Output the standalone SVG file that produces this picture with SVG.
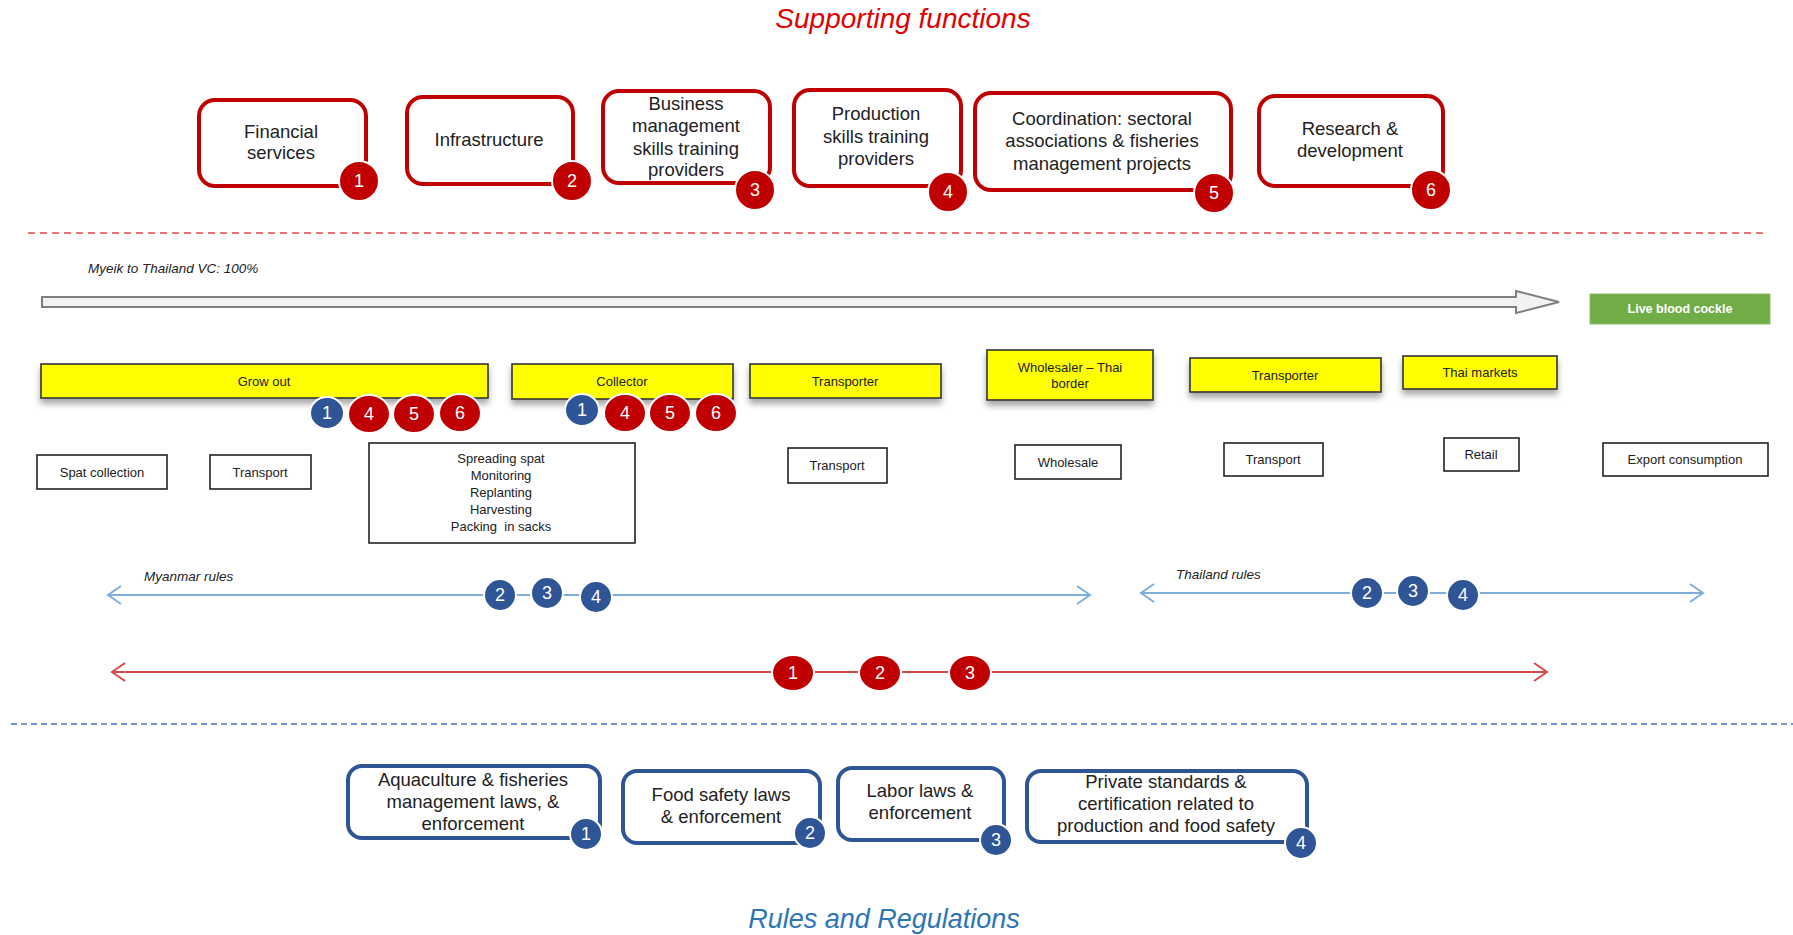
<svg xmlns="http://www.w3.org/2000/svg" width="1793" height="935" viewBox="0 0 1793 935">
<defs>
<style>
.t{font-family:"Liberation Sans",Arial,sans-serif;text-anchor:middle;fill:#222}
.sf{stroke:#C00000;stroke-width:4;fill:#fff}
.rr{stroke:#2F5597;stroke-width:4;fill:#fff}
.rb{fill:#C00000;stroke:#fff;stroke-width:2}
.bb{fill:#2F5597;stroke:#fff;stroke-width:2}
.bn{font-family:"Liberation Sans",Arial,sans-serif;text-anchor:middle;fill:#fff;font-size:18px}
.yl{fill:#FFFF00;stroke:#333;stroke-width:1.6}
.wb{fill:#fff;stroke:#222;stroke-width:1.6}
.big{font-size:18.5px}
.sm{font-size:13px}
.it{font-family:"Liberation Sans",Arial,sans-serif;font-style:italic;fill:#222}
</style>
<filter id="sh" x="-10%" y="-30%" width="120%" height="180%">
<feDropShadow dx="0" dy="5" stdDeviation="3" flood-color="#000" flood-opacity="0.35"/>
</filter>
<marker id="ob" markerWidth="16" markerHeight="20" refX="14" refY="10" orient="auto-start-reverse" markerUnits="userSpaceOnUse">
<path d="M1,1 L14,10 L1,19" fill="none" stroke="#7FAEDC" stroke-width="2"/>
</marker>
<marker id="or" markerWidth="16" markerHeight="20" refX="14" refY="10" orient="auto-start-reverse" markerUnits="userSpaceOnUse">
<path d="M1,1 L14,10 L1,19" fill="none" stroke="#D94A4A" stroke-width="2"/>
</marker>
</defs>
<rect width="1793" height="935" fill="#fff"/>

<text x="903" y="28" style="font-family:'Liberation Sans',Arial,sans-serif;font-style:italic;font-size:28px;fill:#E00000;text-anchor:middle">Supporting functions</text>

<g id="sf1"><rect class="sf" x="199" y="100" width="167" height="86" rx="16"/><text class="t big" x="281" y="138">Financial</text><text class="t big" x="281" y="159">services</text><circle class="rb" cx="359" cy="181" r="20"/><text class="bn" x="359" y="187">1</text></g>
<g id="sf2"><rect class="sf" x="407" y="97" width="166" height="87" rx="16"/><text class="t big" x="489" y="146">Infrastructure</text><circle class="rb" cx="572" cy="181" r="20"/><text class="bn" x="572" y="187">2</text></g>
<g id="sf3"><rect class="sf" x="603" y="91" width="167" height="92" rx="16"/><text class="t big" x="686" y="110">Business</text><text class="t big" x="686" y="132">management</text><text class="t big" x="686" y="155">skills training</text><text class="t big" x="686" y="176">providers</text><circle class="rb" cx="755" cy="190" r="20"/><text class="bn" x="755" y="196">3</text></g>
<g id="sf4"><rect class="sf" x="794" y="90" width="167" height="96" rx="16"/><text class="t big" x="876" y="120">Production</text><text class="t big" x="876" y="143">skills training</text><text class="t big" x="876" y="165">providers</text><circle class="rb" cx="948" cy="192" r="20"/><text class="bn" x="948" y="198">4</text></g>
<g id="sf5"><rect class="sf" x="975" y="93" width="256" height="97" rx="16"/><text class="t big" x="1102" y="125">Coordination: sectoral</text><text class="t big" x="1102" y="147">associations &amp; fisheries</text><text class="t big" x="1102" y="170">management projects</text><circle class="rb" cx="1214" cy="193" r="20"/><text class="bn" x="1214" y="199">5</text></g>
<g id="sf6"><rect class="sf" x="1259" y="96" width="184" height="90" rx="16"/><text class="t big" x="1350" y="135">Research &amp;</text><text class="t big" x="1350" y="157">development</text><circle class="rb" cx="1431" cy="190" r="20"/><text class="bn" x="1431" y="196">6</text></g>

<g id="connectors">
<line x1="28" y1="233" x2="1768" y2="233" stroke="#E04545" stroke-width="1.6" stroke-dasharray="7 5"/>
<line x1="11" y1="724" x2="1793" y2="724" stroke="#4472C4" stroke-width="1.6" stroke-dasharray="6 4"/>
<polygon points="42,297 1516,297 1516,291 1559,302 1516,313 1516,307 42,307" fill="#F2F2F2" stroke="#7F7F7F" stroke-width="2"/>
<line x1="108" y1="595" x2="1090" y2="595" stroke="#7FAEDC" stroke-width="2" marker-start="url(#ob)" marker-end="url(#ob)"/>
<line x1="1141" y1="593" x2="1703" y2="593" stroke="#7FAEDC" stroke-width="2" marker-start="url(#ob)" marker-end="url(#ob)"/>
<line x1="112" y1="672" x2="1547" y2="672" stroke="#D94A4A" stroke-width="2" marker-start="url(#or)" marker-end="url(#or)"/>
</g>

<text class="it" x="88" y="273" style="font-size:13.5px">Myeik to Thailand VC: 100%</text>

<g id="live"><rect x="1590" y="294" width="180" height="30" fill="#70AD47" stroke="#8CC06A" stroke-width="1"/><text class="t" x="1680" y="313" style="fill:#fff;font-weight:bold;font-size:12.5px">Live blood cockle</text></g>

<g id="growout"><rect class="yl" x="41" y="364" width="447" height="34" filter="url(#sh)"/><text class="t sm" x="264" y="386">Grow out</text></g>
<g id="collector"><rect class="yl" x="512" y="364" width="221" height="35" filter="url(#sh)"/><text class="t sm" x="622" y="386">Collector</text></g>
<g id="transporter1"><rect class="yl" x="750" y="364" width="191" height="34" filter="url(#sh)"/><text class="t sm" x="845" y="386">Transporter</text></g>
<g id="wholesaler"><rect class="yl" x="987" y="350" width="166" height="50" filter="url(#sh)"/><text class="t sm" x="1070" y="372">Wholesaler – Thai</text><text class="t sm" x="1070" y="388">border</text></g>
<g id="transporter2"><rect class="yl" x="1190" y="358" width="191" height="34" filter="url(#sh)"/><text class="t sm" x="1285" y="380">Transporter</text></g>
<g id="thaimarkets"><rect class="yl" x="1403" y="356" width="154" height="33" filter="url(#sh)"/><text class="t sm" x="1480" y="377">Thai markets</text></g>

<g id="growout-badges">
<ellipse class="bb" cx="327" cy="413" rx="17" ry="16"/><text class="bn" x="327" y="419">1</text>
<ellipse class="rb" cx="369" cy="414" rx="21" ry="19"/><text class="bn" x="369" y="420">4</text>
<ellipse class="rb" cx="414" cy="414" rx="21" ry="19"/><text class="bn" x="414" y="420">5</text>
<ellipse class="rb" cx="460" cy="413" rx="21" ry="19"/><text class="bn" x="460" y="419">6</text>
</g>
<g id="collector-badges">
<ellipse class="bb" cx="582" cy="410" rx="17" ry="16"/><text class="bn" x="582" y="416">1</text>
<ellipse class="rb" cx="625" cy="413" rx="21" ry="19"/><text class="bn" x="625" y="419">4</text>
<ellipse class="rb" cx="670" cy="413" rx="21" ry="19"/><text class="bn" x="670" y="419">5</text>
<ellipse class="rb" cx="716" cy="413" rx="21" ry="19"/><text class="bn" x="716" y="419">6</text>
</g>

<g id="spat"><rect class="wb" x="37" y="455" width="130" height="34"/><text class="t sm" x="102" y="477">Spat collection</text></g>
<g id="transport-a"><rect class="wb" x="210" y="455" width="101" height="34"/><text class="t sm" x="260" y="477">Transport</text></g>
<g id="activities"><rect class="wb" x="369" y="443" width="266" height="100"/><text class="t sm" x="501" y="463">Spreading spat</text><text class="t sm" x="501" y="480">Monitoring</text><text class="t sm" x="501" y="497">Replanting</text><text class="t sm" x="501" y="514">Harvesting</text><text class="t sm" x="501" y="531" xml:space="preserve">Packing  in sacks</text></g>
<g id="transport-b"><rect class="wb" x="788" y="448" width="99" height="35"/><text class="t sm" x="837" y="470">Transport</text></g>
<g id="wholesale"><rect class="wb" x="1015" y="445" width="106" height="34"/><text class="t sm" x="1068" y="467">Wholesale</text></g>
<g id="transport-c"><rect class="wb" x="1224" y="443" width="99" height="33"/><text class="t sm" x="1273" y="464">Transport</text></g>
<g id="retail"><rect class="wb" x="1444" y="438" width="75" height="33"/><text class="t sm" x="1481" y="459">Retail</text></g>
<g id="export"><rect class="wb" x="1603" y="443" width="165" height="33"/><text class="t sm" x="1685" y="464">Export consumption</text></g>

<text class="it" x="144" y="581" style="font-size:13.5px">Myanmar rules</text>
<text class="it" x="1176" y="579" style="font-size:13.5px">Thailand rules</text>

<g id="myanmar-badges">
<circle class="bb" cx="500" cy="595" r="16"/><text class="bn" x="500" y="601">2</text>
<circle class="bb" cx="547" cy="593" r="16"/><text class="bn" x="547" y="599">3</text>
<circle class="bb" cx="596" cy="597" r="16"/><text class="bn" x="596" y="603">4</text>
</g>
<g id="thailand-badges">
<circle class="bb" cx="1367" cy="593" r="16"/><text class="bn" x="1367" y="599">2</text>
<circle class="bb" cx="1413" cy="591" r="16"/><text class="bn" x="1413" y="597">3</text>
<circle class="bb" cx="1463" cy="595" r="16"/><text class="bn" x="1463" y="601">4</text>
</g>
<g id="red-line-badges">
<ellipse class="rb" cx="793" cy="673" rx="21" ry="18"/><text class="bn" x="793" y="679">1</text>
<ellipse class="rb" cx="880" cy="673" rx="21" ry="18"/><text class="bn" x="880" y="679">2</text>
<ellipse class="rb" cx="970" cy="673" rx="21" ry="18"/><text class="bn" x="970" y="679">3</text>
</g>

<g id="rr1"><rect class="rr" x="348" y="766" width="252" height="72" rx="14"/><text class="t big" x="473" y="786">Aquaculture &amp; fisheries</text><text class="t big" x="473" y="808">management laws, &amp;</text><text class="t big" x="473" y="830">enforcement</text><circle class="bb" cx="586" cy="834" r="16"/><text class="bn" x="586" y="840">1</text></g>
<g id="rr2"><rect class="rr" x="623" y="771" width="197" height="72" rx="14"/><text class="t big" x="721" y="801">Food safety laws</text><text class="t big" x="721" y="823">&amp; enforcement</text><circle class="bb" cx="810" cy="833" r="16"/><text class="bn" x="810" y="839">2</text></g>
<g id="rr3"><rect class="rr" x="838" y="768" width="166" height="72" rx="14"/><text class="t big" x="920" y="797">Labor laws &amp;</text><text class="t big" x="920" y="819">enforcement</text><circle class="bb" cx="996" cy="840" r="16"/><text class="bn" x="996" y="846">3</text></g>
<g id="rr4"><rect class="rr" x="1027" y="771" width="280" height="71" rx="14"/><text class="t big" x="1166" y="788">Private standards &amp;</text><text class="t big" x="1166" y="810">certification related to</text><text class="t big" x="1166" y="832">production and food safety</text><circle class="bb" cx="1301" cy="843" r="16"/><text class="bn" x="1301" y="849">4</text></g>

<text x="884" y="928" style="font-family:'Liberation Sans',Arial,sans-serif;font-style:italic;font-size:27px;fill:#2E75B6;text-anchor:middle">Rules and Regulations</text>
</svg>
